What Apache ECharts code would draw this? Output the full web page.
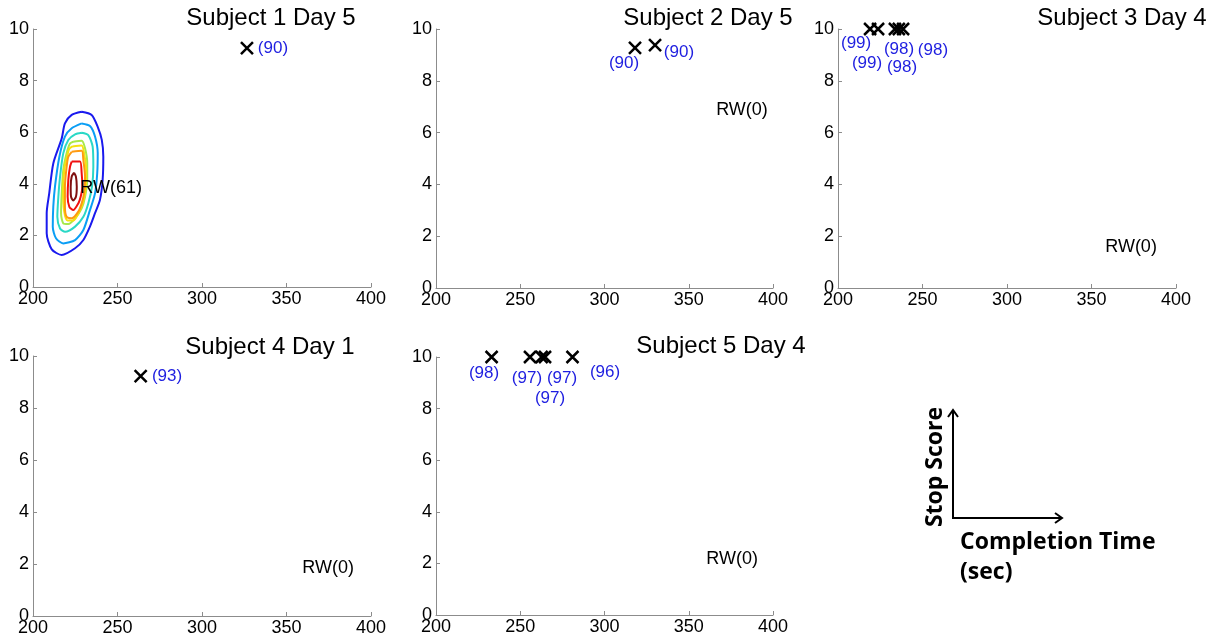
<!DOCTYPE html>
<html>
<head>
<meta charset="utf-8">
<script src="https://cdn.jsdelivr.net/npm/echarts@6/dist/echarts.min.js"></script>
<style>
  html, body { margin: 0; padding: 0; background: #fff; }
  #chart { width: 1215px; height: 640px; }
</style>
</head>
<body>
<div id="chart"></div>
<script>
  // axis ticks shared by every panel
  const xTicks = [200, 250, 300, 350, 400]
  const yTicks = [0, 2, 4, 6, 8, 10]

  const titles = ['Subject 1 Day 5', 'Subject 2 Day 5', 'Subject 3 Day 4', 'Subject 4 Day 1', 'Subject 5 Day 4']

  // crosses (completion time, stop score)
  const markX = [[326.6], [318.1, 330.0], [219.0, 223.7, 233.7, 236.0, 238.5], [263.7], [233.0, 255.8, 262.7, 264.7, 281.0]]
  const markY = [[9.26], [9.27, 9.38], [10, 10, 10, 10, 10], [9.23], [10, 10, 10, 10, 10]]

  // blue score labels
  const scoreText = [['(90)'], ['(90)', '(90)'], ['(99)', '(99)', '(98)', '(98)', '(98)'], ['(93)'], ['(98)', '(97)', '(97)', '(97)', '(96)']]
  const scoreX = [[342.0], [311.6, 344.2], [210.7, 217.2, 236.1, 237.9, 256.2], [279.3], [228.5, 254.0, 274.8, 267.7, 300.3]]
  const scoreY = [[9.26], [8.69, 9.11], [9.46, 8.69, 9.23, 8.53, 9.19], [9.23], [9.38, 9.19, 9.19, 8.41, 9.42]]

  // RW labels
  const rwText = ['RW(61)', 'RW(0)', 'RW(0)', 'RW(0)', 'RW(0)']
  const rwX = [246.2, 381.6, 373.4, 374.6, 375.7]
  const rwY = [3.84, 6.87, 1.58, 1.85, 2.17]

  // density contours of subject 1, outer to inner
  const contour1 = [[228.8, 6.79], [234.7, 6.67], [238.3, 6.21], [240.7, 5.70], [241.6, 5.05], [241.2, 4.15], [239.6, 3.37], [236.7, 2.86], [233.7, 2.34], [229.8, 1.82], [224.9, 1.50], [217.0, 1.24], [211.1, 1.46], [208.1, 2.08], [208.1, 2.86], [209.6, 3.63], [212.0, 4.79], [217.0, 5.76], [218.9, 6.34], [222.9, 6.67]]
  const contour2 = [[228.8, 6.34], [233.7, 6.24], [236.7, 5.83], [238.3, 5.18], [238.0, 4.41], [236.7, 3.63], [233.7, 2.98], [229.8, 2.21], [224.9, 1.82], [217.9, 1.69], [213.6, 1.89], [211.7, 2.34], [212.0, 3.11], [213.0, 3.89], [215.6, 5.05], [218.9, 5.83], [222.9, 6.15]]
  const contour3 = [[228.8, 5.98], [232.7, 5.89], [235.3, 5.44], [235.7, 4.66], [234.9, 3.89], [232.7, 3.24], [229.8, 2.72], [224.9, 2.34], [219.0, 2.14], [216.0, 2.27], [214.4, 2.72], [215.0, 3.50], [216.0, 4.27], [217.9, 5.18], [220.9, 5.70], [224.9, 5.92]]
  const contour4 = [[223.8, 5.63], [228.8, 5.67], [230.8, 5.38], [232.1, 4.80], [232.1, 4.15], [230.8, 3.50], [228.8, 3.05], [224.9, 2.66], [220.9, 2.44], [217.9, 2.47], [216.6, 2.86], [217.0, 3.63], [217.9, 4.53], [219.9, 5.18], [221.9, 5.56]]
  const contour5 = [[223.3, 5.45], [228.8, 5.48], [230.3, 5.15], [231.5, 4.55], [231.2, 3.85], [229.9, 3.35], [227.8, 2.98], [223.9, 2.58], [220.4, 2.58], [218.4, 2.95], [217.8, 3.75], [218.6, 4.60], [220.4, 5.12], [221.4, 5.35]]
  const contour6 = [[222.9, 5.24], [228.8, 5.28], [229.8, 4.92], [230.8, 4.28], [230.2, 3.63], [228.8, 3.24], [226.8, 2.92], [222.9, 2.66], [219.9, 2.72], [218.9, 3.11], [218.9, 3.89], [219.9, 4.66], [220.9, 5.05]]
  const contour7 = [[222.9, 4.86], [227.8, 4.86], [228.8, 4.41], [229.2, 3.89], [228.2, 3.50], [226.8, 3.24], [223.8, 2.98], [221.5, 3.11], [220.5, 3.50], [220.9, 4.15], [221.9, 4.66]]
  const contour8 = [[224.3, 4.43], [225.4, 4.28], [225.9, 3.89], [225.4, 3.50], [223.8, 3.35], [222.5, 3.50], [222.3, 3.89], [222.9, 4.28]]
  const contours = [contour1, contour2, contour3, contour4, contour5, contour6, contour7, contour8]
  const contourColors = ['#1a1aee', '#0a9ef5', '#2ad8c6', '#a8e84a', '#f5e010', '#ff9a10', '#f01010', '#801010']

  const font = 'Liberation Sans, Arial, sans-serif'
  // panel boxes in pixels
  const boxes = [
    { left: 33, top: 29, width: 338, height: 258 },
    { left: 436, top: 29, width: 337, height: 259 },
    { left: 838, top: 29, width: 338, height: 259 },
    { left: 33, top: 356, width: 338, height: 260 },
    { left: 436, top: 357, width: 337, height: 258 }
  ]
  const titlePos = [[271, 18], [708, 18], [1122, 18], [270, 347], [721, 346]]

  let myChart = echarts.init(document.getElementById('chart'))

  let grid = [], xAxis = [], yAxis = [], series = []
  boxes.forEach(function (b, i) {
    grid.push(Object.assign({ outerBoundsMode: 'none', containLabel: false }, b))
    xAxis.push({
      gridIndex: i, type: 'value',
      min: xTicks[0], max: xTicks[xTicks.length - 1], interval: xTicks[1] - xTicks[0],
      axisLine: { lineStyle: { color: '#8c8c8c', width: 1 } },
      axisTick: { inside: true, length: 4, lineStyle: { color: '#8c8c8c' } },
      axisLabel: { color: '#000', fontSize: 18, fontFamily: font, margin: 3 },
      splitLine: { show: false }
    })
    yAxis.push({
      gridIndex: i, type: 'value',
      min: yTicks[0], max: yTicks[yTicks.length - 1], interval: yTicks[1] - yTicks[0],
      axisLine: { show: true, lineStyle: { color: '#8c8c8c', width: 1 } },
      axisTick: { show: true, inside: true, length: 4, lineStyle: { color: '#8c8c8c' } },
      axisLabel: { color: '#000', fontSize: 18, fontFamily: font, margin: 4 },
      splitLine: { show: false }
    })
  })

  // contours on the first panel
  contours.forEach(function (c, k) {
    series.push({
      type: 'line', xAxisIndex: 0, yAxisIndex: 0,
      data: c.concat([c[0]]),
      showSymbol: false, smooth: 0.25, silent: true,
      lineStyle: { color: contourColors[k], width: 2 },
      z: 2
    })
  })

  for (let i = 0; i < 5; i++) {
    series.push({
      type: 'scatter', xAxisIndex: i, yAxisIndex: i,
      data: markX[i].map(function (x, j) { return [x, markY[i][j]] }),
      symbol: 'path://M0,0L10,10M10,0L0,10',
      symbolSize: 12,
      itemStyle: { color: 'transparent', borderColor: '#000', borderWidth: 2.5, opacity: 1 },
      silent: true, z: 5
    })
    series.push({
      type: 'scatter', xAxisIndex: i, yAxisIndex: i,
      data: scoreX[i].map(function (x, j) { return { value: [x, scoreY[i][j]], name: scoreText[i][j] } }),
      symbolSize: 0.1,
      itemStyle: { color: 'transparent', opacity: 1 },
      label: { show: true, position: 'inside', formatter: '{b}', color: '#1e1ee0', fontSize: 17, fontFamily: font },
      silent: true, z: 6
    })
    series.push({
      type: 'scatter', xAxisIndex: i, yAxisIndex: i,
      data: [{ value: [rwX[i], rwY[i]], name: rwText[i] }],
      symbolSize: 0.1,
      itemStyle: { color: 'transparent', opacity: 1 },
      label: { show: true, position: 'inside', formatter: '{b}', color: '#000', fontSize: 18, fontFamily: font },
      silent: true, z: 6
    })
  }

  let graphic = titles.map(function (t, i) {
    return {
      type: 'text', x: titlePos[i][0], y: titlePos[i][1], silent: true,
      style: { text: t, fill: '#000', font: '24px ' + font, textAlign: 'center', textVerticalAlign: 'middle' }
    }
  })

  // axis key in the empty corner
  const legendFont = 'bold 23px "Open Sans", sans-serif'
  graphic.push(
    { type: 'polyline', shape: { points: [[953, 411], [953, 518], [1061, 518]] }, style: { stroke: '#000', lineWidth: 2, fill: null } },
    { type: 'polyline', shape: { points: [[948, 417], [953, 410], [958, 417]] }, style: { stroke: '#000', lineWidth: 2, fill: null } },
    { type: 'polyline', shape: { points: [[1055, 513], [1062, 518], [1055, 523]] }, style: { stroke: '#000', lineWidth: 2, fill: null } },
    { type: 'text', x: 935, y: 467, rotation: Math.PI / 2, style: { text: 'Stop Score', fill: '#000', font: legendFont, textAlign: 'center', textVerticalAlign: 'middle' } },
    { type: 'text', x: 960, y: 542, style: { text: 'Completion Time', fill: '#000', font: legendFont, textAlign: 'left', textVerticalAlign: 'middle' } },
    { type: 'text', x: 960, y: 572, style: { text: '(sec)', fill: '#000', font: legendFont, textAlign: 'left', textVerticalAlign: 'middle' } }
  )

  const option = {
    animation: false,
    backgroundColor: '#fff',
    grid: grid,
    xAxis: xAxis,
    yAxis: yAxis,
    series: series,
    graphic: graphic
  }
  myChart.setOption(option)
  window.addEventListener('resize', function () {
    myChart.resize()
  })
</script>
</body>
</html>
